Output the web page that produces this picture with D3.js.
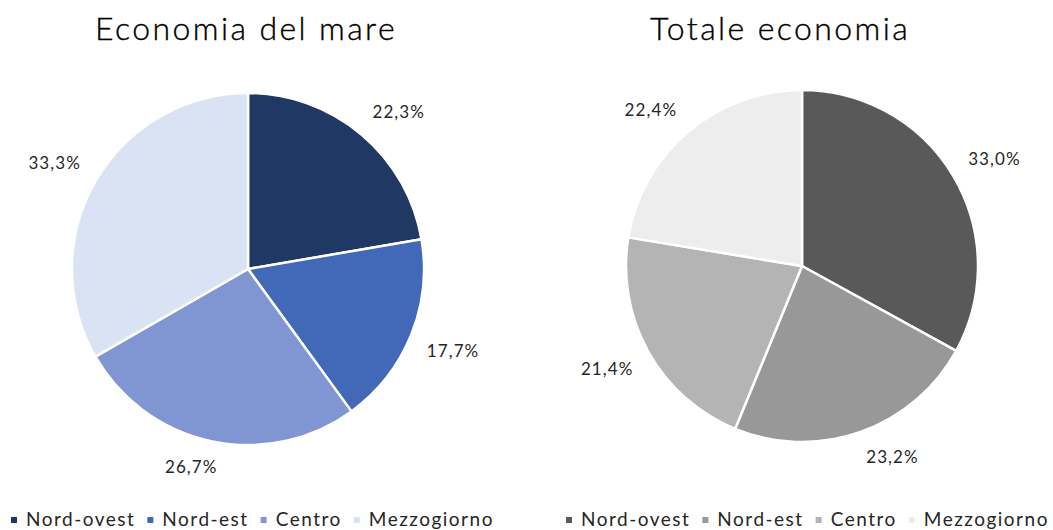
<!DOCTYPE html>
<html>
<head>
<meta charset="utf-8">
<script src="https://cdn.jsdelivr.net/npm/d3@7"></script>
<style>
  html, body { margin: 0; padding: 0; background: #fff; }
  svg { display: block; font-family: "Lato", "Open Sans", sans-serif; }
</style>
</head>
<body>
<svg id="chart" width="1053" height="530"></svg>
<script>
const categories = ["Nord-ovest", "Nord-est", "Centro", "Mezzogiorno"];
const mareValues = [22.3, 17.7, 26.7, 33.3];
const totaleValues = [33.0, 23.2, 21.4, 22.4];
const titles = ["Economia del mare", "Totale economia"];
const mareColors = ["#203864", "#4169B8", "#7F96D3", "#DAE3F3"];
const totaleColors = ["#595959", "#989898", "#B4B4B4", "#EDEDED"];

const svg = d3.select("#chart");
const fmt = v => d3.format(".1f")(v).replace(".", ",") + "%";

const charts = [
  { title: titles[0], values: mareValues, colors: mareColors, cx: 248, cy: 269, tx: 246, legendX: 11 },
  { title: titles[1], values: totaleValues, colors: totaleColors, cx: 802, cy: 266, tx: 780, legendX: 566 }
];

const r = 176;
const pie = d3.pie().sort(null).value(d => d.v);
const arc = d3.arc().innerRadius(0).outerRadius(r);
const clamp = v => Math.max(-1, Math.min(1, v));

charts.forEach(c => {
  const data = categories.map((k, i) => ({ k, v: c.values[i], col: c.colors[i] }));
  const g = svg.append("g").attr("transform", `translate(${c.cx},${c.cy})`);
  const arcs = pie(data);
  g.selectAll("path").data(arcs).join("path")
    .attr("d", arc)
    .attr("fill", d => d.data.col)
    .attr("stroke", "#fff")
    .attr("stroke-width", 2.5)
    .attr("stroke-linejoin", "round");
  g.selectAll("text").data(arcs).join("text")
    .attr("text-anchor", "middle")
    .attr("dy", "0.35em")
    .attr("font-size", 17)
    .attr("letter-spacing", 1.1)
    .attr("fill", "#262626")
    .text(d => fmt(d.data.v))
    .each(function(d) {
      const w = this.getComputedTextLength();
      const h = 18;
      const a = (d.startAngle + d.endAngle) / 2;
      const rr = r + 17;
      const px = Math.sin(a) * rr + (w / 2) * clamp(3 * Math.sin(a));
      const py = -Math.cos(a) * rr + (h / 2) * clamp(-3 * Math.cos(a));
      d3.select(this).attr("transform", `translate(${px},${py})`);
    });

  svg.append("text")
    .attr("x", c.tx).attr("y", 40)
    .attr("text-anchor", "middle")
    .attr("font-size", 32)
    .attr("font-weight", 300)
    .attr("letter-spacing", 2.4)
    .attr("fill", "#000")
    .attr("stroke", "#000")
    .attr("stroke-width", 0.35)
    .text(c.title);

  // legend
  const lg = svg.append("g").attr("transform", `translate(${c.legendX},526)`);
  let x = 0;
  categories.forEach((k, i) => {
    lg.append("rect").attr("x", x).attr("y", -9).attr("width", 6).attr("height", 6)
      .attr("fill", c.colors[i]);
    const t = lg.append("text").attr("x", x + 15).attr("y", 0)
      .attr("font-size", 19).attr("letter-spacing", 1.5).attr("fill", "#262626").text(k);
    x += 15 + t.node().getComputedTextLength() + 12;
  });
});
</script>
</body>
</html>
